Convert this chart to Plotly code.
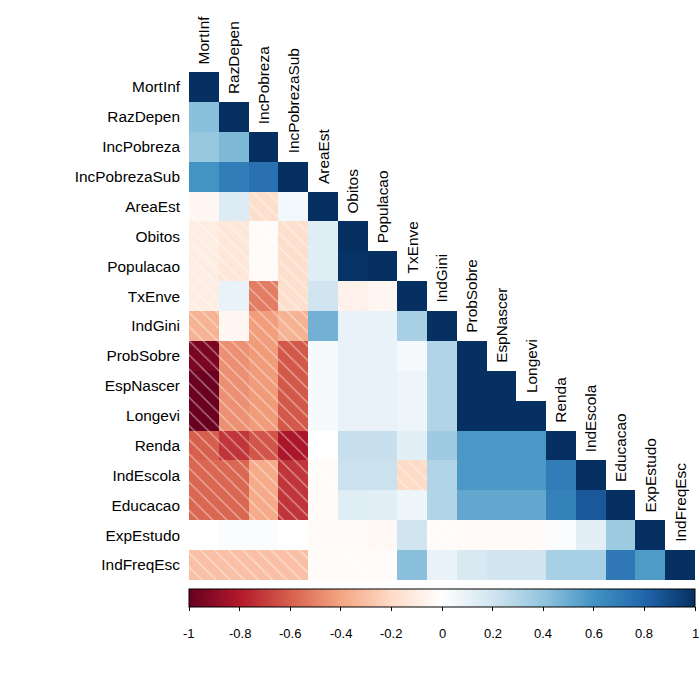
import numpy as np
import plotly.graph_objects as go

variables = ["MortInf", "RazDepen", "IncPobreza", "IncPobrezaSub", "AreaEst", "Obitos",
             "Populacao", "TxEnve", "IndGini", "ProbSobre", "EspNascer", "Longevi",
             "Renda", "IndEscola", "Educacao", "ExpEstudo", "IndFreqEsc"]

# lower triangle of the correlation matrix (row by row, excluding the diagonal)
r_MortInf = []
r_RazDepen = [0.42]
r_IncPobreza = [0.38, 0.45]
r_IncPobrezaSub = [0.60, 0.70, 0.75]
r_AreaEst = [-0.05, 0.15, -0.18, 0.06]
r_Obitos = [-0.10, -0.14, -0.02, -0.18, 0.14]
r_Populacao = [-0.10, -0.14, -0.02, -0.18, 0.14, 0.99]
r_TxEnve = [-0.10, 0.10, -0.52, -0.18, 0.20, -0.08, -0.05]
r_IndGini = [-0.35, -0.05, -0.42, -0.35, 0.48, 0.10, 0.10, 0.33]
r_ProbSobre = [-0.95, -0.46, -0.43, -0.62, 0.04, 0.10, 0.10, 0.04, 0.30]
r_EspNascer = [-0.99, -0.46, -0.43, -0.62, 0.04, 0.10, 0.10, 0.08, 0.30, 1.00]
r_Longevi = [-0.99, -0.46, -0.43, -0.62, 0.04, 0.10, 0.10, 0.08, 0.30, 1.00, 1.00]
r_Renda = [-0.60, -0.72, -0.63, -0.82, 0.00, 0.23, 0.23, 0.12, 0.36, 0.58, 0.58, 0.58]
r_IndEscola = [-0.58, -0.58, -0.38, -0.72, -0.02, 0.22, 0.22, -0.20, 0.30, 0.58, 0.58, 0.58, 0.70]
r_Educacao = [-0.58, -0.58, -0.38, -0.72, -0.02, 0.14, 0.12, 0.08, 0.30, 0.52, 0.52, 0.52, 0.68, 0.85]
r_ExpEstudo = [0.00, 0.02, 0.02, 0.00, -0.03, -0.03, -0.04, 0.20, -0.02, -0.03, -0.03, -0.03, 0.02, 0.12, 0.37]
r_IndFreqEsc = [-0.30, -0.30, -0.30, -0.30, -0.02, -0.02, -0.02, 0.42, 0.10, 0.17, 0.20, 0.20, 0.33, 0.33, 0.72, 0.57]

lower_rows = [r_MortInf, r_RazDepen, r_IncPobreza, r_IncPobrezaSub, r_AreaEst, r_Obitos,
              r_Populacao, r_TxEnve, r_IndGini, r_ProbSobre, r_EspNascer, r_Longevi,
              r_Renda, r_IndEscola, r_Educacao, r_ExpEstudo, r_IndFreqEsc]

cbar_ticks = [-1, -0.8, -0.6, -0.4, -0.2, 0, 0.2, 0.4, 0.6, 0.8, 1]
cbar_ticktext = ["-1", "-0.8", "-0.6", "-0.4", "-0.2", "0", "0.2", "0.4", "0.6", "0.8", "1"]

n = len(variables)
z = np.full((n, n), np.nan)
for i, row in enumerate(lower_rows):
    for j, v in enumerate(row):
        z[i, j] = v
    z[i, i] = 1.0

rdbu = ["#67001F", "#B2182B", "#D6604D", "#F4A582", "#FDDBC7", "#FFFFFF",
        "#D1E5F0", "#92C5DE", "#4393C3", "#2166AC", "#053061"]
colorscale = [[k / 10, c] for k, c in enumerate(rdbu)]

FONT = "Liberation Sans, Arial, sans-serif"
H = 700
M_T, M_B = 72, 120
plot_h = H - M_T - M_B

fig = go.Figure()
fig.add_trace(go.Heatmap(
    z=z, x=list(range(n)), y=list(range(n)),
    zmin=-1, zmax=1, colorscale=colorscale, hoverongaps=False,
    xgap=0, ygap=0,
    colorbar=dict(
        orientation="h", x=0.5, xanchor="center",
        yref="container", y=(H - 589) / H, yanchor="top",
        len=1, lenmode="fraction", thickness=18, xpad=0, ypad=0,
        outlinewidth=1, outlinecolor="black",
        ticks="outside", ticklen=4, tickcolor="black",
        tickvals=cbar_ticks, showticklabels=False,
    ),
))

# colorbar tick labels (placed a bit further below the bar, as in the reference)
cmin, cmax = -1, 1
for v, t in zip(cbar_ticks, cbar_ticktext):
    fig.add_annotation(x=(v - cmin) / (cmax - cmin), xref="paper",
                       y=-(633 - (H - M_B)) / plot_h, yref="paper",
                       text=t, showarrow=False, xanchor="center", yanchor="middle",
                       font=dict(family=FONT, size=13, color="black"))

# hatch overlay for negative cells
hx, hbase = [], []
for i in range(n):
    for j in range(i):
        if z[i, j] < 0:
            hx.append(j)
            hbase.append(i - 0.5)
fig.add_trace(go.Bar(
    x=hx, y=[1] * len(hx), base=hbase, width=1,
    marker=dict(color="rgba(0,0,0,0)", line=dict(width=0),
                pattern=dict(shape="\\", fgcolor="white", size=10, solidity=0.12,
                             fillmode="overlay")),
    hoverinfo="skip", showlegend=False,
))

# column labels above the diagonal cells
for j, name in enumerate(variables):
    fig.add_annotation(x=j, y=j - 0.5, text=name, textangle=-90, showarrow=False,
                       xanchor="center", yanchor="bottom", yshift=6,
                       font=dict(family=FONT, size=15.4, color="black"))

fig.update_layout(
    width=700, height=H, plot_bgcolor="white", paper_bgcolor="white",
    margin=dict(l=189, r=5, t=M_T, b=M_B, autoexpand=False), barmode="overlay", bargap=0,
    showlegend=False,
)
fig.update_xaxes(range=[-0.5, n - 0.5], showgrid=False, zeroline=False,
                 showticklabels=False, ticks="", showline=False)
fig.update_yaxes(range=[n - 0.5, -0.5], showgrid=False, zeroline=False,
                 tickvals=list(range(n)), ticktext=variables, ticks="",
                 tickfont=dict(family=FONT, size=15.4, color="black"), showline=False,
                 ticklabelstandoff=8)

fig.write_html("out.html", config={"displayModeBar": False},
               post_script="document.body.style.margin='0';")
